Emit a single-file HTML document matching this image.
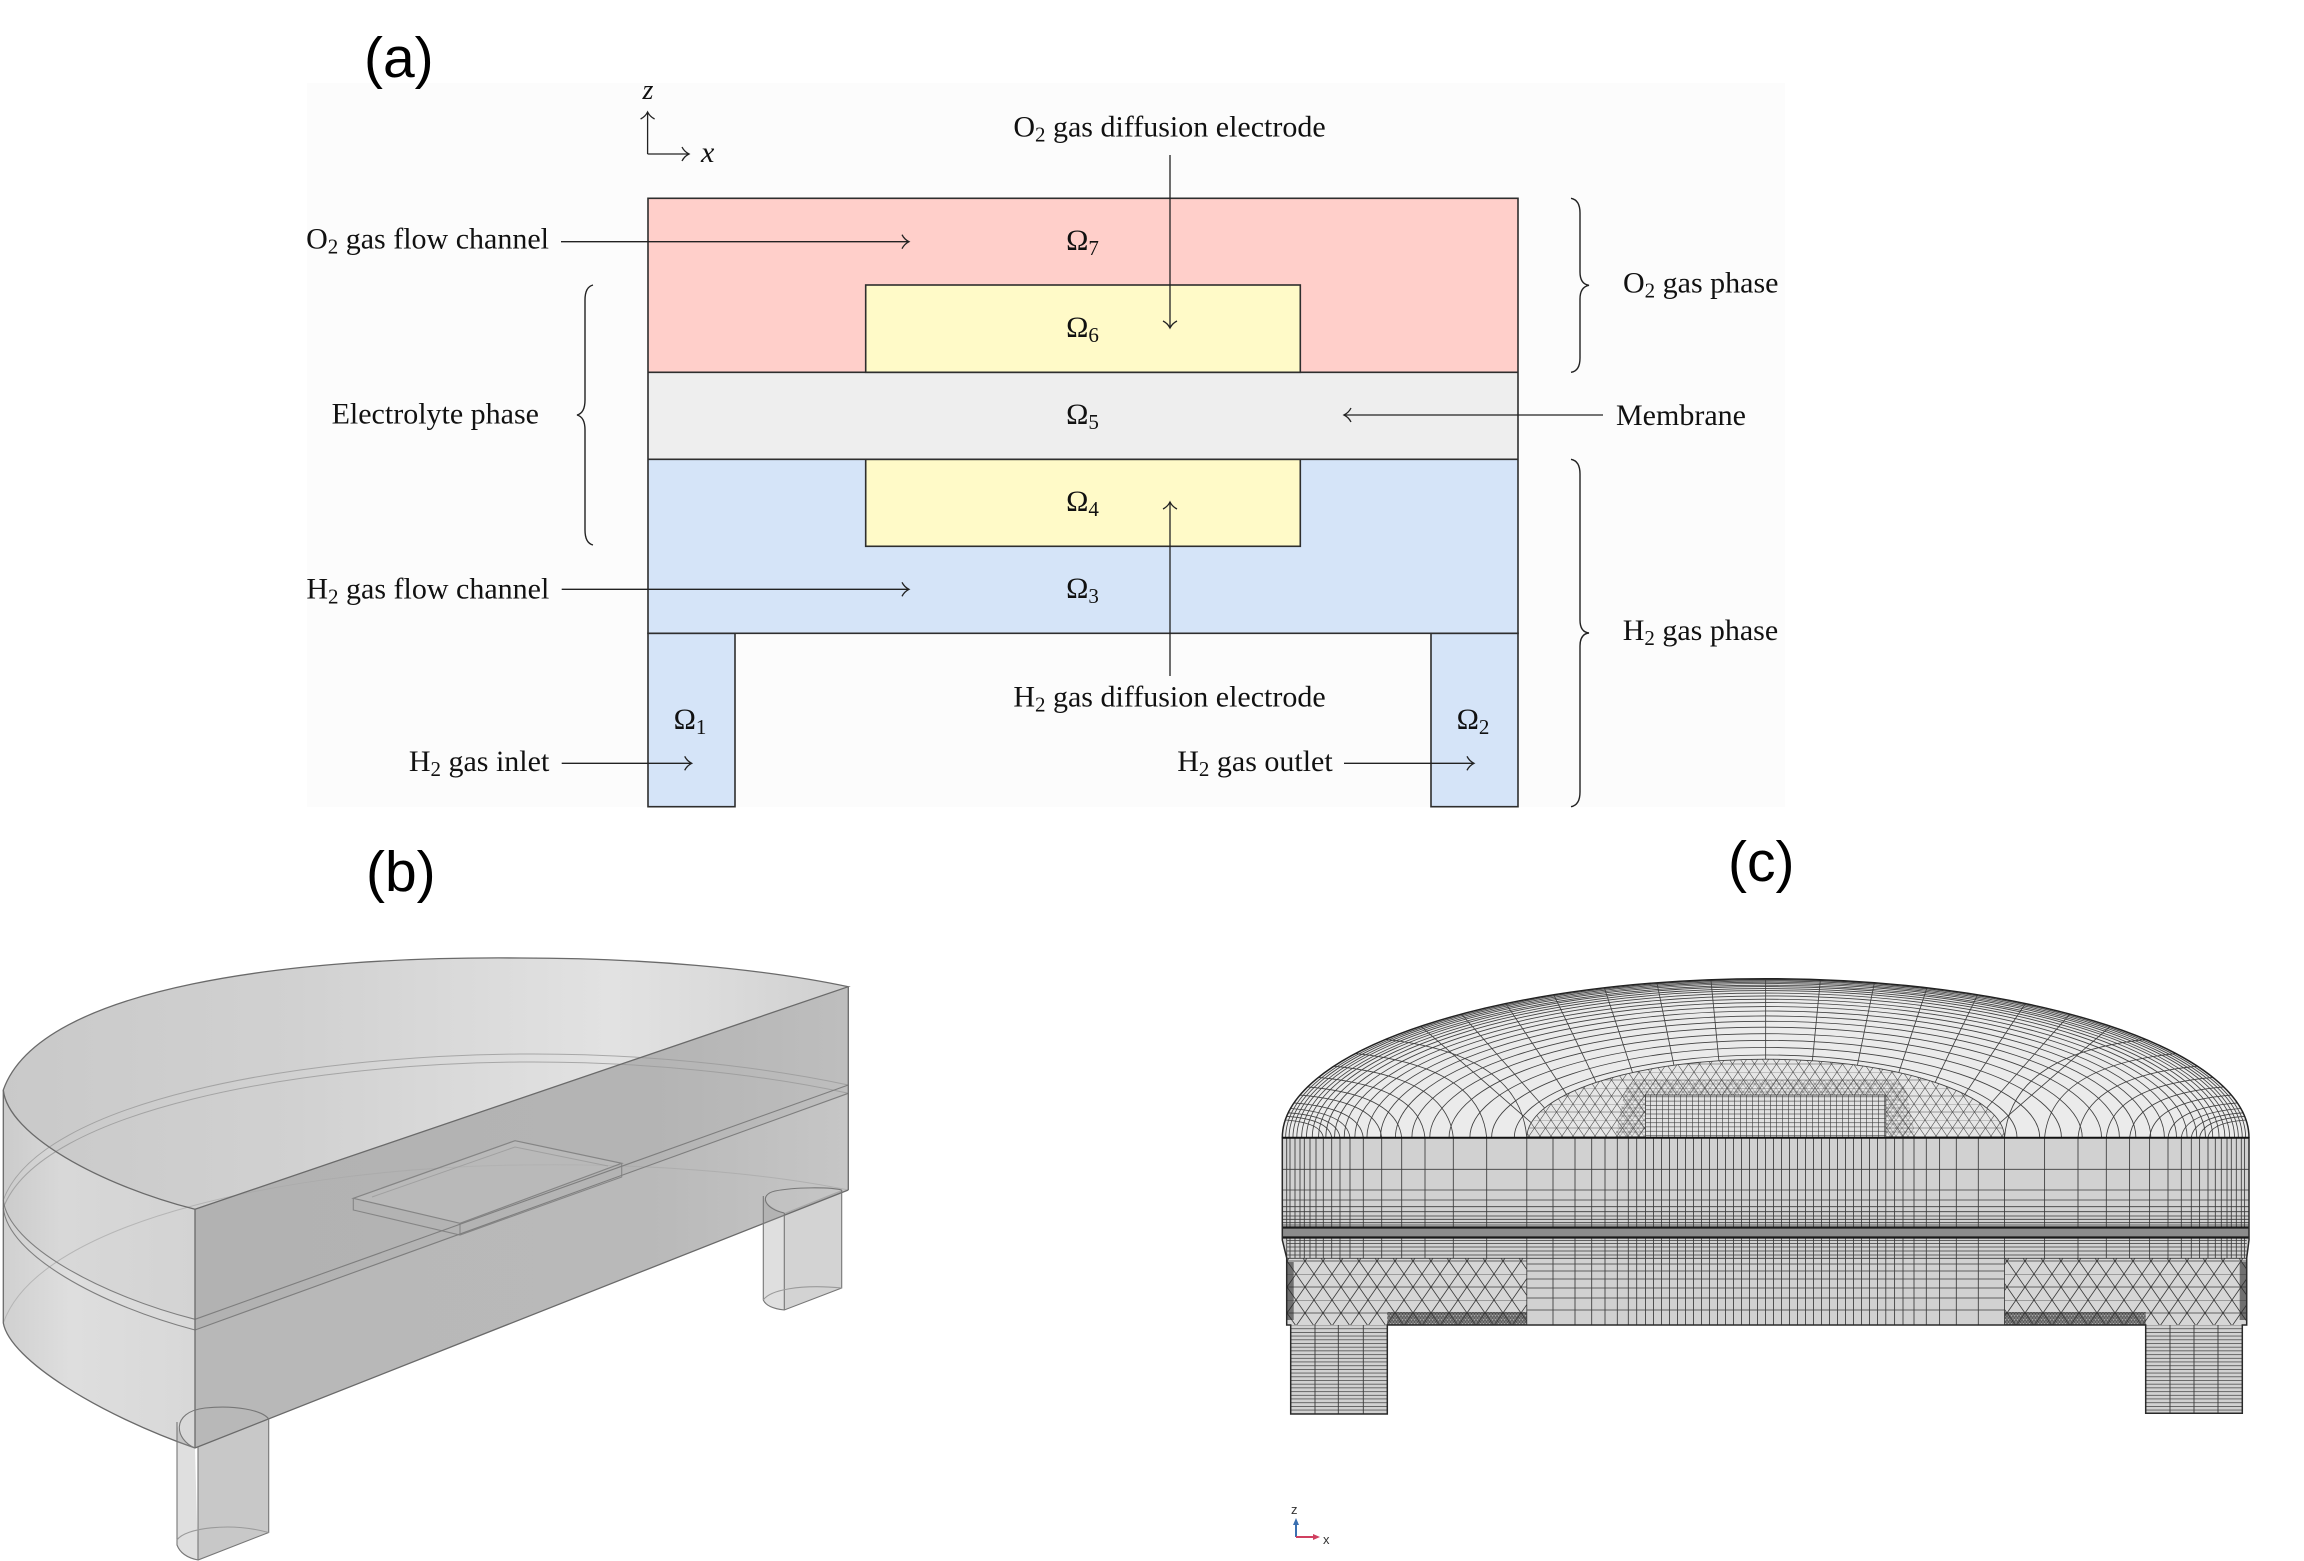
<!DOCTYPE html>
<html>
<head>
<meta charset="utf-8">
<style>
html,body{margin:0;padding:0;background:#fff;}
svg{display:block;}
</style>
</head>
<body>
<svg width="2304" height="1561" viewBox="0 0 2304 1561" xmlns="http://www.w3.org/2000/svg">
<defs>
  <pattern id="tri" patternUnits="userSpaceOnUse" width="36" height="26">
    <path d="M0,0H36M0,13H36M0,0L9,13L18,0L27,13L36,0M0,26L9,13L18,26L27,13L36,26" fill="none" stroke="#3a3a3a" stroke-width="0.8"/>
  </pattern>
  <pattern id="trim" patternUnits="userSpaceOnUse" width="22" height="16">
    <path d="M0,0H22M0,8H22M0,0L5.5,8L11,0L16.5,8L22,0M0,16L5.5,8L11,16L16.5,8L22,16" fill="none" stroke="#4a4a4a" stroke-width="0.6"/>
  </pattern>
  <pattern id="trid" patternUnits="userSpaceOnUse" width="12" height="8">
    <path d="M0,0H12M0,4H12M0,0L3,4L6,0L9,4L12,0M0,8L3,4L6,8L9,4L12,8" fill="none" stroke="#4a4a4a" stroke-width="0.5"/>
  </pattern>
  <pattern id="trdd" patternUnits="userSpaceOnUse" width="6" height="4">
    <path d="M0,0H6M0,2H6M0,0L1.5,2L3,0L4.5,2L6,0M0,4L1.5,2L3,4L4.5,2L6,4" fill="none" stroke="#333" stroke-width="0.5"/>
  </pattern>
  <pattern id="hl" patternUnits="userSpaceOnUse" width="20" height="3.7">
    <path d="M0,0.4H20" stroke="#3a3a3a" stroke-width="0.7"/>
  </pattern>
  <pattern id="grid" patternUnits="userSpaceOnUse" width="6" height="4.3">
    <path d="M0,0.3H6M0.3,0V4.3" stroke="#3a3a3a" stroke-width="0.6"/>
  </pattern>
  <linearGradient id="btop" x1="0" y1="0" x2="848" y2="0" gradientUnits="userSpaceOnUse">
    <stop offset="0" stop-color="#c9c9c9"/>
    <stop offset="0.35" stop-color="#d1d1d1"/>
    <stop offset="0.72" stop-color="#e2e2e2"/>
    <stop offset="0.86" stop-color="#dadada"/>
    <stop offset="1" stop-color="#cfcfcf"/>
  </linearGradient>
  <linearGradient id="bwall" x1="3" y1="0" x2="195" y2="0" gradientUnits="userSpaceOnUse">
    <stop offset="0" stop-color="#cbcbcb"/>
    <stop offset="0.3" stop-color="#d8d8d8"/>
    <stop offset="1" stop-color="#d3d3d3"/>
  </linearGradient>
  <linearGradient id="bwall2" x1="3" y1="0" x2="195" y2="0" gradientUnits="userSpaceOnUse">
    <stop offset="0" stop-color="#d0d0d0"/>
    <stop offset="0.35" stop-color="#dedede"/>
    <stop offset="1" stop-color="#d8d8d8"/>
  </linearGradient>
  <linearGradient id="bcut" x1="195" y1="0" x2="848" y2="0" gradientUnits="userSpaceOnUse">
    <stop offset="0" stop-color="#b2b2b2"/>
    <stop offset="0.7" stop-color="#b4b4b4"/>
    <stop offset="1" stop-color="#bebebe"/>
  </linearGradient>
  <linearGradient id="bcut2" x1="195" y1="0" x2="848" y2="0" gradientUnits="userSpaceOnUse">
    <stop offset="0" stop-color="#b8b8b8"/>
    <stop offset="0.7" stop-color="#b9b9b9"/>
    <stop offset="1" stop-color="#c6c6c6"/>
  </linearGradient>
</defs>

<rect width="2304" height="1561" fill="#ffffff"/>

<!-- ================= PANEL (a) ================= -->
<rect x="307" y="83" width="1478" height="724" fill="#fcfcfc"/>
<text x="364" y="77" font-family="Liberation Sans, sans-serif" font-size="57" fill="#000">(a)</text>

<rect x="648" y="198.3" width="870" height="174" fill="#ffcfca"/>
<rect x="648" y="372.3" width="870" height="87" fill="#eeeeee"/>
<rect x="648" y="459.3" width="870" height="174" fill="#d5e4f8"/>
<rect x="865.7" y="285" width="434.6" height="87.3" fill="#fffac8"/>
<rect x="865.7" y="459.3" width="434.6" height="87" fill="#fffac8"/>
<rect x="648" y="633.3" width="87" height="173.4" fill="#d5e4f8"/>
<rect x="1431" y="633.3" width="87" height="173.4" fill="#d5e4f8"/>

<g fill="none" stroke="#2e2e2e" stroke-width="1.6">
  <rect x="648" y="198.3" width="870" height="435"/>
  <path d="M648,372.3H1518M648,459.3H1518"/>
  <rect x="865.7" y="285" width="434.6" height="87.3"/>
  <rect x="865.7" y="459.3" width="434.6" height="87"/>
  <rect x="648" y="633.3" width="87" height="173.4"/>
  <rect x="1431" y="633.3" width="87" height="173.4"/>
</g>

<g fill="none" stroke="#222" stroke-width="1.3">
  <path d="M561,241.7H909"/>
  <path d="M902,234.7C904,238.7 907,240.7 909,241.7C907,242.7 904,244.7 902,248.7"/>
  <path d="M561.7,589.3H909"/>
  <path d="M902,582.3C904,586.3 907,588.3 909,589.3C907,590.3 904,592.3 902,596.3"/>
  <path d="M561.7,763.3H691.7"/>
  <path d="M684.7,756.3C686.7,760.3 689.7,762.3 691.7,763.3C689.7,764.3 686.7,766.3 684.7,770.3"/>
  <path d="M1344,763.3H1474"/>
  <path d="M1467,756.3C1469,760.3 1472,762.3 1474,763.3C1472,764.3 1469,766.3 1467,770.3"/>
  <path d="M1603,415H1344"/>
  <path d="M1351,408C1349,412 1346,414 1344,415C1346,416 1349,418 1351,422"/>
  <path d="M1170,155V328"/>
  <path d="M1163,321C1167,323 1169,326 1170,328C1171,326 1173,323 1177,321"/>
  <path d="M1170,676V502"/>
  <path d="M1163,509C1167,507 1169,504 1170,502C1171,504 1173,507 1177,509"/>
  <path d="M647.6,154V112M647.6,154H689"/>
  <path d="M640.6,119C644.6,117 646.6,114 647.6,112C648.6,114 650.6,117 654.6,119"/>
  <path d="M682,147C684,151 687,153 689,154C687,155 684,157 682,161"/>
</g>

<g fill="none" stroke="#222" stroke-width="1.4">
  <path d="M593,285Q585,287 585,300L585,400Q585,413 577,415Q585,417 585,430L585,530Q585,543 593,545"/>
  <path d="M1571,198.3Q1580,200 1580,213L1580,272Q1580,284 1589,285.3Q1580,287 1580,299L1580,358Q1580,371 1571,372.3"/>
  <path d="M1571,459.3Q1580,461 1580,474L1580,620Q1580,632 1589,633Q1580,634 1580,646L1580,792Q1580,805 1571,806.7"/>
</g>

<g font-family="Liberation Serif, serif" font-size="30" fill="#111">
  <text x="648" y="99" text-anchor="middle" font-style="italic" font-size="28">z</text>
  <text x="701" y="162" font-style="italic">x</text>

  <text x="549" y="248.5" text-anchor="end">O<tspan font-size="21" dy="5">2</tspan><tspan dy="-5"> gas flow channel</tspan></text>
  <text x="539" y="423.5" text-anchor="end">Electrolyte phase</text>
  <text x="549.3" y="598.3" text-anchor="end">H<tspan font-size="21" dy="5">2</tspan><tspan dy="-5"> gas flow channel</tspan></text>
  <text x="549.3" y="771" text-anchor="end">H<tspan font-size="21" dy="5">2</tspan><tspan dy="-5"> gas inlet</tspan></text>
  <text x="1169.5" y="136.7" text-anchor="middle">O<tspan font-size="21" dy="5">2</tspan><tspan dy="-5"> gas diffusion electrode</tspan></text>
  <text x="1169.5" y="706.7" text-anchor="middle">H<tspan font-size="21" dy="5">2</tspan><tspan dy="-5"> gas diffusion electrode</tspan></text>
  <text x="1332.7" y="771" text-anchor="end">H<tspan font-size="21" dy="5">2</tspan><tspan dy="-5"> gas outlet</tspan></text>
  <text x="1623" y="292.7">O<tspan font-size="21" dy="5">2</tspan><tspan dy="-5"> gas phase</tspan></text>
  <text x="1616" y="425">Membrane</text>
  <text x="1622.7" y="640">H<tspan font-size="21" dy="5">2</tspan><tspan dy="-5"> gas phase</tspan></text>

  <text x="1082.5" y="250" text-anchor="middle">Ω<tspan font-size="21" dy="5">7</tspan></text>
  <text x="1082.5" y="337" text-anchor="middle">Ω<tspan font-size="21" dy="5">6</tspan></text>
  <text x="1082.5" y="424" text-anchor="middle">Ω<tspan font-size="21" dy="5">5</tspan></text>
  <text x="1082.5" y="511" text-anchor="middle">Ω<tspan font-size="21" dy="5">4</tspan></text>
  <text x="1082.5" y="598" text-anchor="middle">Ω<tspan font-size="21" dy="5">3</tspan></text>
  <text x="690" y="729" text-anchor="middle">Ω<tspan font-size="21" dy="5">1</tspan></text>
  <text x="1473" y="729" text-anchor="middle">Ω<tspan font-size="21" dy="5">2</tspan></text>
</g>

<!-- ================= PANEL (b) ================= -->
<text x="366" y="891" font-family="Liberation Sans, sans-serif" font-size="57" fill="#000">(b)</text>

<path d="M3.3,1090L3.3,1200C8,1245 100,1295 195,1319.3L195,1209.3C100,1185 8,1135 3.3,1090Z" fill="url(#bwall)"/>
<path d="M3.3,1200L3.3,1323C10,1360 100,1415 195,1448L195,1319.3C100,1295 8,1245 3.3,1200Z" fill="url(#bwall2)"/>
<path d="M195,1209.3L848.3,986.7C760,968 640,958 520,958C300,956 40,985 3.3,1090C8,1135 100,1185 195,1209.3Z" fill="url(#btop)"/>
<path d="M195,1209.3L848.3,986.7L848.3,1190L195,1448Z" fill="url(#bcut)"/>
<path d="M195,1330L848.3,1093.3L848.3,1190L195,1448Z" fill="url(#bcut2)"/>

<g fill="none" stroke="#9a9a9a" stroke-width="1" opacity="0.8">
  <path d="M3.3,1200C40,1100 300,1056 520,1054C640,1053 760,1066 848.3,1085"/>
  <path d="M3.3,1208C40,1110 300,1064 520,1062C640,1061 760,1074 848.3,1093.3"/>
</g>
<path d="M3.3,1323C40,1218 300,1168 520,1165C640,1163 760,1172 848.3,1190" fill="none" stroke="#a8a8a8" stroke-width="1" opacity="0.7"/>

<path d="M353.3,1198.3L515,1140.7L621.7,1163.3L460,1223.3Z" fill="#ffffff" fill-opacity="0.08" stroke="#858585" stroke-width="1.2"/>
<path d="M353.3,1198.3L353.3,1210L460,1235L621.7,1177L621.7,1163.3M460,1223.3L460,1235" fill="none" stroke="#858585" stroke-width="1.1"/>
<path d="M372,1197L515,1147L608,1166" fill="none" stroke="#a0a0a0" stroke-width="1"/>

<g fill="none" stroke="#7e7e7e" stroke-width="1.1">
  <path d="M195,1319.3L848.3,1085"/>
  <path d="M195,1330L848.3,1093.3"/>
  <path d="M3.3,1200C8,1245 100,1295 195,1319.3"/>
  <path d="M3.3,1208C8,1255 100,1305 195,1330"/>
</g>

<g fill="none" stroke="#6a6a6a" stroke-width="1.3">
  <path d="M3.3,1090L3.3,1323C10,1360 100,1415 195,1448"/>
  <path d="M195,1209.3L848.3,986.7C760,968 640,958 520,958C300,956 40,985 3.3,1090C8,1135 100,1185 195,1209.3"/>
  <path d="M195,1209.3V1448M848.3,986.7V1190M195,1448L848.3,1190"/>
</g>

<path d="M195,1448C185,1442 177,1432 177,1422L177,1545C180,1553 188,1558 198,1560Z" fill="#969696" fill-opacity="0.3"/>
<path d="M198,1447L268.7,1419L268.7,1532.5L198,1560Z" fill="#6e6e6e" fill-opacity="0.38"/>
<g fill="none" stroke="#777" stroke-width="1.1">
  <path d="M195,1448C175,1440 170,1412 205,1408C235,1405 262,1410 268.7,1419"/>
  <path d="M177,1422V1545C180,1553 188,1558 198,1560L268.7,1532.5V1419M198,1447V1560"/>
  <path d="M177,1540C185,1528 230,1522 268.7,1532.5" stroke="#9a9a9a"/>
</g>
<path d="M784.3,1213C772,1208 763.3,1202 763.3,1196L763.3,1300C766,1306 775,1309 784.3,1310Z" fill="#969696" fill-opacity="0.3"/>
<path d="M784.3,1213L841.7,1190L841.7,1288L784.3,1310Z" fill="#6e6e6e" fill-opacity="0.3"/>
<g fill="none" stroke="#777" stroke-width="1.1">
  <path d="M784.3,1213C765,1209 758,1195 775,1191C795,1187 830,1187 841.7,1190"/>
  <path d="M763.3,1196V1300C766,1306 775,1309 784.3,1310L841.7,1288V1190M784.3,1213V1310"/>
  <path d="M763.3,1300C770,1290 800,1284 841.7,1288" stroke="#9a9a9a"/>
</g>

<!-- ================= PANEL (c) ================= -->
<text x="1728" y="881" font-family="Liberation Sans, sans-serif" font-size="57" fill="#000">(c)</text>

<path d="M1282.3,1137.7A483.35,159 0 0 1 2249,1137.7Z" fill="#ebebeb"/>
<path d="M1526.85,1137.7A238.8,78.5 0 0 1 2004.45,1137.7Z" fill="#e6e6e6"/>
<path d="M1526.85,1137.7A238.8,78.5 0 0 1 2004.45,1137.7Z" fill="url(#trim)"/>
<path d="M1615,1137.7L1625,1090Q1630,1080 1645,1080L1886,1080Q1901,1080 1906,1090L1916,1137.7Z" fill="url(#trid)" opacity="0.8"/>
<rect x="1645.5" y="1095" width="240.3" height="42.7" fill="#e2e2e2"/>
<rect x="1645.5" y="1095" width="240.3" height="42.7" fill="url(#grid)"/>
<rect x="1645.5" y="1095" width="240.3" height="42.7" fill="none" stroke="#444" stroke-width="0.9"/>

<g fill="none" stroke="#404040" stroke-width="0.85">
  <path d="M1285.65,1137.7A480,157.9 0 0 1 2245.65,1137.7"/>
  <path d="M1289.05,1137.7A476.6,156.8 0 0 1 2242.25,1137.7"/>
  <path d="M1292.95,1137.7A472.7,155.5 0 0 1 2238.35,1137.7"/>
  <path d="M1296.8,1137.7A468.85,154.2 0 0 1 2234.5,1137.7"/>
  <path d="M1301.65,1137.7A464,152.6 0 0 1 2229.65,1137.7"/>
  <path d="M1306.45,1137.7A459.2,151.1 0 0 1 2224.85,1137.7"/>
  <path d="M1312.25,1137.7A453.4,149.1 0 0 1 2219.05,1137.7"/>
  <path d="M1318.55,1137.7A447.1,147.1 0 0 1 2212.75,1137.7"/>
  <path d="M1325.8,1137.7A439.85,144.7 0 0 1 2205.5,1137.7"/>
  <path d="M1334.5,1137.7A431.15,141.8 0 0 1 2196.8,1137.7"/>
  <path d="M1344.15,1137.7A421.5,138.6 0 0 1 2187.15,1137.7"/>
  <path d="M1354.8,1137.7A410.85,135.2 0 0 1 2176.5,1137.7"/>
  <path d="M1366.9,1137.7A398.75,131.2 0 0 1 2164.4,1137.7"/>
  <path d="M1380.45,1137.7A385.2,126.7 0 0 1 2150.85,1137.7"/>
  <path d="M1395.4,1137.7A370.25,121.8 0 0 1 2135.9,1137.7"/>
  <path d="M1411.85,1137.7A353.8,116.4 0 0 1 2119.45,1137.7"/>
  <path d="M1429.75,1137.7A335.9,110.5 0 0 1 2101.55,1137.7"/>
  <path d="M1449.05,1137.7A316.6,104.1 0 0 1 2082.25,1137.7"/>
  <path d="M1469.85,1137.7A295.8,97.3 0 0 1 2061.45,1137.7"/>
  <path d="M1491.6,1137.7A274.05,90.2 0 0 1 2039.7,1137.7"/>
  <path d="M1514.3,1137.7A251.35,82.7 0 0 1 2017,1137.7"/>
  <path d="M1526.85,1137.7A238.8,78.5 0 0 1 2004.45,1137.7"/>
  <path d="M1765.65,1059.2L1765.65,978.7M1718.9,1060.7L1710.9,979.7M1673.9,1065.2L1656.9,982.8M1632.5,1072.5L1604.3,987.8M1596.2,1082.4L1553.7,994.8M1566.5,1094.4L1505.9,1003.6M1544.6,1108L1461.5,1014.2M1531.2,1122.7L1420.9,1026.3"/>
  <path d="M1812.4,1060.7L1820.4,979.7M1857.4,1065.2L1874.4,982.8M1898.8,1072.5L1927,987.8M1935.1,1082.4L1977.6,994.8M1964.8,1094.4L2025.4,1003.6M1986.7,1108L2069.8,1014.2M2000.1,1122.7L2110.4,1026.3"/>
  <path d="M1526.8,1137.7Q1519.8,1054 1385.8,1039.4M2004.5,1137.7Q2011.5,1054 2145.5,1039.4"/>
  <path d="M1486.7,1137.7Q1480.1,1066.2 1355.5,1053.6M1453.3,1137.7Q1447.3,1076.9 1333.8,1066.2M1425,1137.7Q1419.7,1086.4 1318.5,1077.4M1401.7,1137.7Q1397,1094.5 1307.7,1086.9M1381.7,1137.7Q1377.6,1101.5 1299.9,1095.1M1363.3,1137.7Q1359.8,1108.1 1294,1102.9M1350,1137.7Q1347,1112.9 1290.5,1108.5M1340,1137.7Q1337.4,1116.5 1288.2,1112.8M1331.7,1137.7Q1329.5,1119.5 1286.7,1116.3M1323.3,1137.7Q1321.4,1122.7 1285.3,1120"/>
  <path d="M2044.6,1137.7Q2051.2,1066.2 2175.8,1053.6M2078,1137.7Q2084,1076.9 2197.5,1066.2M2106.3,1137.7Q2111.6,1086.4 2212.8,1077.4M2129.6,1137.7Q2134.3,1094.5 2223.6,1086.9M2149.6,1137.7Q2153.7,1101.5 2231.4,1095.1M2168,1137.7Q2171.5,1108.1 2237.3,1102.9M2181.3,1137.7Q2184.3,1112.9 2240.8,1108.5M2191.3,1137.7Q2193.9,1116.5 2243.1,1112.8M2199.6,1137.7Q2201.8,1119.5 2244.6,1116.3M2208,1137.7Q2209.9,1122.7 2246,1120"/>
</g>
<path d="M1282.3,1137.7A483.35,159 0 0 1 2249,1137.7" fill="none" stroke="#222" stroke-width="1.5"/>

<path d="M1282.3,1137.7H2249V1240L2246.7,1258V1325H1286.7V1258L1282.3,1240Z" fill="#d1d1d1"/>
<rect x="1286.7" y="1258.3" width="240.1" height="66.7" fill="#d6d6d6"/>
<rect x="1286.7" y="1258.3" width="240.1" height="66.7" fill="url(#tri)"/>
<rect x="2004.5" y="1258.3" width="242.2" height="66.7" fill="#d6d6d6"/>
<rect x="2004.5" y="1258.3" width="242.2" height="66.7" fill="url(#tri)"/>
<rect x="1387.3" y="1312" width="139.5" height="13" fill="url(#trdd)"/>
<rect x="1387.3" y="1314" width="139.5" height="11" fill="#3a3a3a" opacity="0.3"/>
<rect x="2004.5" y="1312" width="141.2" height="13" fill="url(#trdd)"/>
<rect x="2004.5" y="1314" width="141.2" height="11" fill="#3a3a3a" opacity="0.3"/>
<rect x="1286.7" y="1262" width="7" height="58" fill="#2a2a2a" opacity="0.6"/>
<rect x="2239.7" y="1262" width="7" height="58" fill="#2a2a2a" opacity="0.6"/>

<g fill="none" stroke="#3a3a3a" stroke-width="0.85">
  <path d="M1286.7,1137.7V1258.3M1290,1137.7V1258.3M1295,1137.7V1258.3M1300,1137.7V1258.3M1304.3,1137.7V1258.3M1310,1137.7V1258.3M1316,1137.7V1258.3M1323.3,1137.7V1258.3M1331.7,1137.7V1258.3M1340,1137.7V1258.3M1350,1137.7V1258.3M1363.3,1137.7V1258.3M1381.7,1137.7V1258.3M1401.7,1137.7V1258.3M1425,1137.7V1258.3M1453.3,1137.7V1258.3M1486.7,1137.7V1258.3"/>
  <path d="M2044.6,1137.7V1258.3M2078,1137.7V1258.3M2106.3,1137.7V1258.3M2129.6,1137.7V1258.3M2149.6,1137.7V1258.3M2168,1137.7V1258.3M2181.3,1137.7V1258.3M2191.3,1137.7V1258.3M2199.6,1137.7V1258.3M2208,1137.7V1258.3M2215.3,1137.7V1258.3M2221.3,1137.7V1258.3M2227,1137.7V1258.3M2231.3,1137.7V1258.3M2236.3,1137.7V1258.3M2241.3,1137.7V1258.3M2244.6,1137.7V1258.3"/>
  <path d="M1526.8,1137.7V1325M1553,1137.7V1325M1575,1137.7V1325M1591.7,1137.7V1325M1605,1137.7V1325M1617.3,1137.7V1325M1628.3,1137.7V1325M1636.7,1137.7V1325M1645.5,1137.7V1325M1653.5,1137.7V1325M1661.5,1137.7V1325M1669.5,1137.7V1325M1677.5,1137.7V1325M1685.5,1137.7V1325M1693.5,1137.7V1325M1701.5,1137.7V1325M1709.5,1137.7V1325M1717.5,1137.7V1325M1725.5,1137.7V1325M1733.5,1137.7V1325M1741.5,1137.7V1325M1749.5,1137.7V1325M1757.5,1137.7V1325M1765.5,1137.7V1325M1773.5,1137.7V1325M1781.5,1137.7V1325M1789.5,1137.7V1325M1797.5,1137.7V1325M1805.5,1137.7V1325M1813.5,1137.7V1325M1821.5,1137.7V1325M1829.5,1137.7V1325M1837.5,1137.7V1325M1845.5,1137.7V1325M1853.5,1137.7V1325M1861.5,1137.7V1325M1869.5,1137.7V1325M1877.5,1137.7V1325M1885.8,1137.7V1325M1894.6,1137.7V1325M1903,1137.7V1325M1914,1137.7V1325M1926.3,1137.7V1325M1939.6,1137.7V1325M1956.3,1137.7V1325M1978.3,1137.7V1325M2004.5,1137.7V1325"/>
  <path d="M1282.3,1169.3H2249M1282.3,1190H2249M1282.3,1200H2249M1282.3,1206.7H2249M1282.3,1211.7H2249M1282.3,1216H2249M1282.3,1219.3H2249M1282.3,1222.7H2249M1282.3,1225H2249"/>
  <path d="M1286.7,1240.5H2246.7M1286.7,1243.5H2246.7M1286.7,1247H2246.7M1286.7,1251H2246.7M1286.7,1255H2246.7M1286.7,1258.3H2246.7"/>
  <path d="M1526.8,1264H2004.5M1526.8,1271H2004.5M1526.8,1279H2004.5M1526.8,1288H2004.5M1526.8,1298H2004.5M1526.8,1310H2004.5"/>
</g>
<rect x="1282.3" y="1226.7" width="966.7" height="11.6" fill="#8c8c8c"/>
<path d="M1282.3,1227.5H2249M1282.3,1237.5H2249" stroke="#1a1a1a" stroke-width="2.2"/>

<rect x="1290.7" y="1325" width="96.6" height="89" fill="#d1d1d1"/>
<rect x="1290.7" y="1325" width="96.6" height="89" fill="url(#hl)"/>
<rect x="2145.7" y="1325" width="96.6" height="88.3" fill="#d1d1d1"/>
<rect x="2145.7" y="1325" width="96.6" height="88.3" fill="url(#hl)"/>
<path d="M1315,1325V1414M1338.3,1325V1414M1363.3,1325V1414M2170,1325V1413.3M2194,1325V1413.3M2218,1325V1413.3" stroke="#3a3a3a" stroke-width="0.9"/>

<path d="M1282.3,1137.7H2249V1240L2246.7,1258V1325H2242.3V1413.3H2145.7V1325H1387.3V1414H1290.7V1325H1286.7V1258L1282.3,1240Z" fill="none" stroke="#2a2a2a" stroke-width="1.5"/>
<path d="M1282.3,1137.7H2249" stroke="#111" stroke-width="2"/>

<text x="1291" y="1514" font-family="Liberation Sans, sans-serif" font-size="13" fill="#333">z</text>
<path d="M1296,1537V1521" stroke="#3a6fb0" stroke-width="2"/>
<path d="M1293,1525L1296,1518L1299,1525Z" fill="#3a6fb0"/>
<path d="M1296,1537H1316" stroke="#d04060" stroke-width="2"/>
<path d="M1313,1534L1320,1537L1313,1540Z" fill="#d04060"/>
<text x="1323" y="1544" font-family="Liberation Sans, sans-serif" font-size="13" fill="#333">x</text>

</svg>
</body>
</html>
